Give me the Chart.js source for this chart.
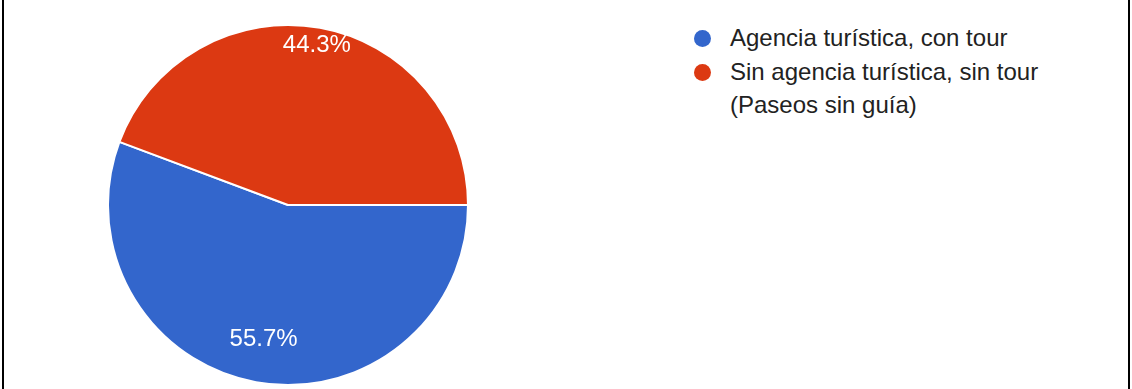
<!DOCTYPE html>
<html lang="es">
<head>
    <meta charset="UTF-8">
    <title>Agencia turística</title>
    <script src="https://cdn.jsdelivr.net/npm/chart.js"></script>
    <style>
        body {
            margin: 0;
            width: 1132px;
            height: 389px;
            background: #fff;
            font-family: Arial, "Liberation Sans", sans-serif;
            position: relative;
            overflow: hidden;
        }

        .border-left, .border-right {
            position: absolute;
            top: 0;
            width: 2px;
            height: 389px;
            background: #000;
        }
        .border-left { left: 2px; }
        .border-right { left: 1128px; }

        #box {
            position: absolute;
            left: 107px;
            top: 24px;
            width: 362px;
            height: 362px;
        }

        #legend {
            position: absolute;
            left: 694px;
            top: 21px;
            font-size: 24px;
            color: #222;
        }
        .item {
            display: flex;
            align-items: flex-start;
            margin-bottom: 1px;
        }
        .dot {
            width: 17px;
            height: 17px;
            border-radius: 50%;
            margin: 9px 19px 0 0;
            flex: none;
        }
        .txt { line-height: 33px; }
    </style>
</head>
<body>
    <div class="border-left"></div>
    <div class="border-right"></div>
    <div id="box"><canvas id="pie"></canvas></div>
    <div id="legend"></div>

    <script>
        const categories = ["Agencia turística, con tour", "Sin agencia turística, sin tour (Paseos sin guía)"];
        const legendLines = [["Agencia turística, con tour"], ["Sin agencia turística, sin tour", "(Paseos sin guía)"]];
        const values = [55.7, 44.3];
        const colors = ["#3366cc", "#dc3912"];

        // how far out along the slice the % label sits (fraction of radius)
        const labelDist = [0.76, 0.9];

        const legend = document.getElementById("legend");
        legendLines.forEach((lines, i) => {
            const item = document.createElement("div");
            item.className = "item";
            item.innerHTML = '<span class="dot" style="background:' + colors[i] + '"></span>' +
                '<span class="txt">' + lines.join("<br>") + '</span>';
            legend.appendChild(item);
        });

        const pctLabels = {
            id: "pctLabels",
            afterDatasetsDraw(chart) {
                const ctx = chart.ctx;
                const arcs = chart.getDatasetMeta(0).data;
                ctx.save();
                ctx.fillStyle = "#fff";
                ctx.font = "24px Arial, 'Liberation Sans', sans-serif";
                ctx.textAlign = "center";
                ctx.textBaseline = "middle";
                arcs.forEach((arc, i) => {
                    const p = arc.getProps(["x", "y", "startAngle", "endAngle", "outerRadius"], true);
                    const mid = (p.startAngle + p.endAngle) / 2;
                    const r = p.outerRadius * labelDist[i];
                    ctx.fillText(values[i].toFixed(1) + "%", p.x + Math.cos(mid) * r, p.y + Math.sin(mid) * r);
                });
                ctx.restore();
            }
        };

        new Chart(document.getElementById("pie"), {
            type: "pie",
            data: {
                labels: categories,
                datasets: [{
                    data: values,
                    backgroundColor: colors,
                    borderColor: "#fff",
                    borderWidth: 2
                }]
            },
            options: {
                responsive: true,
                maintainAspectRatio: false,
                animation: false,
                rotation: 90,
                layout: { padding: 0 },
                plugins: {
                    legend: { display: false },
                    tooltip: { enabled: false }
                }
            },
            plugins: [pctLabels]
        });
    </script>
</body>
</html>
